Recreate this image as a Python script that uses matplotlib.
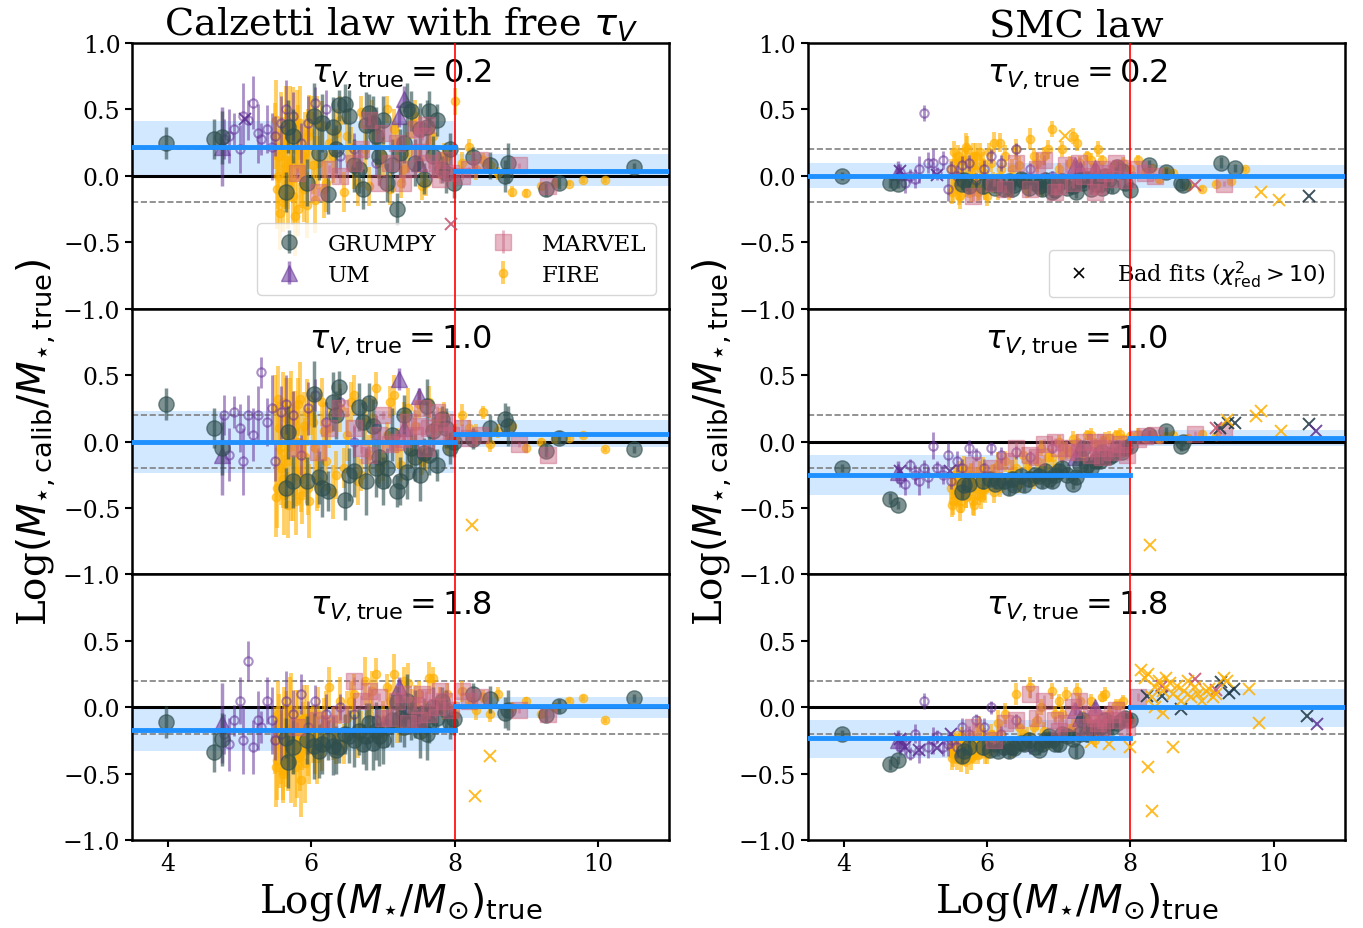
import matplotlib.pyplot as plt
import numpy as np

nan = np.nan

plt.rcParams['font.family'] = 'DejaVu Serif'
plt.rcParams['mathtext.fontset'] = 'dejavusans'

# panels: columns = attenuation law used in the fit, rows = true tau_V
col_titles = [r'Calzetti law with free $\tau_V$', 'SMC law']
tau_labels = ['0.2', '1.0', '1.8']

# ---------------- GRUMPY ----------------
grumpy_x = [3.97, 4.64, 4.76, 5.65, 5.68, 5.94, 6.04, 6.11, 6.23, 6.30,
            6.38, 6.47, 6.59, 6.67, 6.76, 6.81, 6.86, 6.95, 7.05, 7.20,
            7.24, 7.34, 7.39, 7.58, 7.61, 7.64, 7.82, 7.99, 8.26, 8.50,
            8.71, 8.74, 9.27, 9.46, 10.50,
            5.75, 6.15, 6.35, 6.52, 6.72, 6.90, 7.00, 7.12, 7.30, 7.45,
            7.52, 7.70, 7.75, 7.88, 7.93]
grumpy_calz_02 = [0.25, 0.28, 0.29, -0.12, 0.37, -0.05, 0.45, 0.17, -0.14, 0.37,
                  0.53, 0.54, 0.08, 0.05, 0.38, 0.47, 0.40, 0.15, -0.05, -0.25,
                  0.17, 0.50, 0.49, -0.02, 0.37, 0.49, 0.05, -0.05, 0.14, 0.08,
                  0.00, 0.10, -0.10, -0.05, 0.07,
                  0.30, 0.40, 0.20, 0.45, -0.10, 0.30, 0.42, 0.08, 0.25, 0.10,
                  0.35, 0.15, 0.42, 0.02, 0.20]
grumpy_calz_10 = [0.28, 0.10, -0.05, -0.35, 0.07, -0.30, 0.36, -0.27, -0.37, 0.30,
                  0.41, -0.44, -0.22, 0.26, -0.30, 0.29, 0.12, -0.12, -0.20, -0.37,
                  -0.30, -0.23, -0.05, -0.09, 0.27, -0.10, 0.17, 0.00, 0.02, 0.10,
                  0.17, 0.12, -0.07, 0.03, -0.06,
                  -0.30, -0.35, 0.20, -0.25, 0.15, -0.20, -0.30, 0.05, 0.20, -0.12,
                  -0.25, 0.08, -0.18, 0.10, -0.05]
grumpy_calz_18 = [-0.11, -0.34, -0.24, -0.23, -0.41, -0.25, -0.29, -0.33, -0.25, -0.29,
                  -0.30, -0.20, -0.25, -0.18, -0.22, -0.12, -0.27, -0.22, -0.15, 0.04,
                  -0.08, 0.05, -0.10, -0.05, -0.20, -0.12, 0.05, -0.09, 0.10, 0.06,
                  -0.04, -0.02, -0.06, 0.01, 0.07,
                  -0.30, -0.28, -0.32, -0.22, -0.28, -0.18, -0.25, -0.10, -0.15, -0.05,
                  -0.18, 0.00, -0.08, -0.02, -0.12]
grumpy_smc_02 = [0.00, -0.05, -0.06, -0.06, -0.03, -0.08, -0.05, -0.09, -0.10, -0.04,
                 -0.07, -0.02, -0.09, -0.05, -0.10, -0.03, -0.07, -0.11, -0.04, -0.08,
                 -0.12, -0.05, -0.02, -0.06, -0.09, 0.00, 0.07, -0.11, 0.08, 0.03,
                 -0.05, -0.07, 0.10, 0.06, nan,
                 -0.08, -0.06, -0.10, -0.04, -0.08, -0.12, -0.05, -0.09, -0.03, -0.10,
                 -0.06, -0.02, -0.08, 0.04, -0.05]
grumpy_smc_10 = [-0.20, -0.43, -0.48, -0.38, -0.33, -0.30, -0.28, -0.32, -0.30, -0.35,
                 -0.33, -0.26, -0.28, -0.25, -0.30, -0.22, -0.28, -0.25, -0.20, -0.32,
                 -0.27, -0.05, -0.18, -0.15, -0.08, -0.12, -0.05, -0.03, 0.05, 0.08,
                 -0.03, 0.00, nan, nan, nan,
                 -0.32, -0.30, -0.28, -0.33, -0.26, -0.30, -0.22, -0.25, -0.18, -0.20,
                 -0.15, -0.12, -0.10, -0.08, -0.05]
grumpy_smc_18 = [-0.20, -0.43, -0.40, -0.37, -0.33, -0.30, -0.32, -0.28, -0.30, -0.33,
                 -0.31, -0.27, -0.25, -0.30, -0.28, -0.25, -0.22, -0.28, -0.20, -0.24,
                 -0.33, -0.10, -0.20, -0.15, -0.18, -0.10, -0.12, -0.10, nan, nan,
                 nan, nan, nan, nan, nan,
                 -0.30, -0.33, -0.30, -0.28, -0.32, -0.25, -0.28, -0.22, -0.20, -0.18,
                 -0.15, -0.12, -0.15, -0.10, -0.08]
grumpy_err_calz = [0.12, 0.15, 0.20, 0.15, 0.20, 0.18, 0.25, 0.20, 0.15, 0.22,
                   0.12, 0.15, 0.20, 0.18, 0.25, 0.15, 0.20, 0.22, 0.15, 0.12,
                   0.18, 0.20, 0.15, 0.12, 0.20, 0.15, 0.10, 0.12, 0.08, 0.10,
                   0.12, 0.15, 0.05, 0.05, 0.03,
                   0.20, 0.22, 0.18, 0.20, 0.15, 0.22, 0.18, 0.20, 0.15, 0.18,
                   0.20, 0.15, 0.12, 0.15, 0.12]
grumpy_err_smc = [0.03, 0.04, 0.03, 0.05, 0.04, 0.06, 0.05, 0.04, 0.06, 0.05,
                  0.04, 0.05, 0.06, 0.04, 0.05, 0.06, 0.04, 0.05, 0.06, 0.04,
                  0.05, 0.04, 0.06, 0.05, 0.04, 0.05, 0.04, 0.05, 0.04, 0.03,
                  0.04, 0.03, 0.04, 0.03, 0.03,
                  0.05, 0.04, 0.06, 0.05, 0.04, 0.05, 0.06, 0.04, 0.05, 0.04,
                  0.05, 0.04, 0.05, 0.04, 0.05]

# ---------------- UM ----------------
um_x = [4.78, 4.85, 4.92, 5.00, 5.05, 5.12, 5.18, 5.25, 5.30, 5.38,
        5.45, 5.50, 5.58, 5.65, 5.75, 5.85, 5.95, 6.05, 6.20, 6.40,
        6.60, 6.90]
um_calz_02 = [0.28, 0.30, 0.35, 0.20, 0.45, 0.42, 0.55, 0.32, 0.28, 0.35,
              0.22, 0.30, 0.40, 0.50, 0.45, 0.25, 0.40, 0.55, 0.50, 0.15,
              0.20, 0.10]
um_calz_10 = [0.20, -0.10, 0.22, 0.10, -0.15, 0.20, 0.05, 0.20, 0.52, 0.15,
              0.25, -0.15, 0.22, 0.28, 0.20, -0.10, 0.25, 0.35, 0.15, 0.30,
              0.00, 0.10]
um_calz_18 = [-0.20, -0.28, -0.10, 0.05, -0.25, 0.35, -0.30, -0.10, -0.15, 0.05,
              -0.10, -0.25, -0.20, 0.05, -0.05, 0.10, -0.15, 0.05, -0.05, 0.00,
              -0.05, -0.10]
um_smc_02 = [0.03, -0.05, 0.00, -0.02, 0.05, 0.47, 0.10, 0.10, 0.02, 0.12,
             -0.10, 0.05, 0.00, 0.08, 0.10, -0.03, 0.05, 0.15, 0.10, 0.20,
             0.05, 0.00]
um_smc_10 = [-0.28, -0.32, -0.18, -0.25, -0.30, -0.20, -0.27, -0.03, -0.20, -0.25,
             -0.10, -0.30, -0.15, -0.20, -0.05, -0.10, -0.20, -0.05, -0.10, -0.08,
             -0.12, -0.05]
um_smc_18 = [-0.30, -0.28, -0.35, -0.20, -0.32, 0.05, -0.30, -0.25, -0.22, -0.30,
             -0.28, -0.25, -0.30, -0.15, -0.20, -0.10, -0.15, 0.00, -0.20, -0.10,
             -0.30, -0.25]
um_err_calz = [0.15, 0.20, 0.12, 0.18, 0.25, 0.15, 0.20, 0.22, 0.12, 0.18,
               0.25, 0.15, 0.20, 0.22, 0.18, 0.15, 0.20, 0.12, 0.15, 0.10,
               0.12, 0.10]
um_err_smc = [0.06, 0.08, 0.05, 0.07, 0.10, 0.06, 0.08, 0.10, 0.05, 0.07,
              0.09, 0.06, 0.08, 0.07, 0.06, 0.05, 0.07, 0.05, 0.06, 0.05,
              0.05, 0.04]
# UM galaxies drawn as triangles
umtri_x = [4.76, 7.22, 7.30, 7.50]
umtri_calz_02 = [0.22, 0.45, 0.58, 0.10]
umtri_calz_10 = [-0.10, 0.47, 0.10, 0.34]
umtri_calz_18 = [-0.12, 0.15, -0.05, -0.10]
umtri_smc_02 = [0.03, 0.08, 0.05, 0.06]
umtri_smc_10 = [-0.23, -0.12, -0.05, -0.10]
umtri_smc_18 = [-0.25, -0.02, -0.08, 0.00]
umtri_err_calz = [0.30, 0.08, 0.10, 0.06]
umtri_err_smc = [0.08, 0.04, 0.05, 0.04]

# ---------------- MARVEL ----------------
marvel_x = [5.80, 6.10, 6.40, 6.60, 6.80, 6.95, 7.10, 7.20, 7.35, 7.45,
            7.55, 7.65, 7.75, 7.85, 7.95, 8.10, 8.35, 8.90, 9.30,
            6.25, 6.70, 7.00, 7.28, 7.50, 7.60, 7.80, 8.20]
marvel_calz_02 = [0.02, -0.12, 0.00, 0.10, 0.42, -0.05, 0.10, 0.25, 0.05, 0.35,
                  0.30, 0.10, 0.05, 0.12, 0.02, 0.00, 0.12, 0.08, -0.08,
                  0.05, 0.20, 0.32, -0.05, 0.18, 0.38, -0.02, 0.05]
marvel_calz_10 = [-0.05, -0.08, 0.25, 0.10, -0.10, 0.05, -0.02, 0.00, 0.15, 0.05,
                  0.25, 0.10, 0.22, 0.15, 0.05, 0.10, 0.05, -0.02, -0.10,
                  0.10, -0.05, 0.20, 0.02, 0.12, -0.05, 0.08, 0.03]
marvel_calz_18 = [-0.15, -0.10, -0.05, 0.20, 0.12, 0.08, -0.08, 0.05, -0.12, 0.02,
                  0.10, -0.05, 0.00, 0.05, -0.02, 0.12, 0.08, -0.02, -0.05,
                  -0.12, 0.05, -0.08, 0.10, -0.10, 0.08, 0.12, 0.05]
marvel_smc_02 = [-0.15, -0.05, 0.10, -0.10, 0.12, -0.12, 0.08, -0.05, 0.00, 0.05,
                 -0.08, 0.02, -0.02, 0.06, -0.03, 0.05, 0.00, nan, -0.06,
                 -0.10, 0.05, -0.08, 0.10, -0.12, 0.05, 0.10, 0.02]
marvel_smc_10 = [-0.18, -0.20, -0.05, -0.10, -0.02, 0.00, -0.08, -0.05, 0.00, -0.10,
                 -0.05, 0.00, -0.08, -0.02, -0.10, 0.02, 0.05, 0.06, 0.07,
                 -0.15, -0.12, -0.05, -0.08, 0.00, -0.12, -0.05, 0.04]
marvel_smc_18 = [-0.15, -0.25, -0.10, 0.10, 0.05, -0.10, -0.12, 0.00, -0.15, -0.05,
                 -0.12, -0.10, -0.05, -0.10, -0.15, 0.08, nan, nan, nan,
                 -0.12, -0.08, -0.18, 0.05, -0.08, -0.15, -0.02, nan]
marvel_err = [0.04, 0.03, 0.05, 0.03, 0.04, 0.03, 0.05, 0.04, 0.03, 0.04,
              0.03, 0.04, 0.05, 0.03, 0.04, 0.03, 0.02, 0.02, 0.02,
              0.03, 0.04, 0.03, 0.04, 0.03, 0.04, 0.03, 0.02]

# ---------------- FIRE ----------------
fire_x = [5.50, 5.52, 5.55, 5.58, 5.60, 5.62, 5.65, 5.68, 5.70, 5.72,
          5.75, 5.78, 5.80, 5.82, 5.85, 5.88, 5.90, 5.95, 6.00, 6.05,
          6.10, 6.15, 6.20, 6.25, 6.30, 6.40, 6.45, 6.50, 6.60, 6.70,
          6.75, 6.80, 6.90, 7.00, 7.05, 7.10, 7.20, 7.30, 7.40, 7.50,
          7.60, 7.70, 7.80, 7.90, 8.00, 8.10, 8.20, 8.30, 8.40, 8.50,
          8.60, 8.80, 9.00, 9.20, 9.40, 9.60, 9.80, 10.10,
          5.51, 5.54, 5.57, 5.61, 5.64, 5.67, 5.71, 5.74, 5.77, 5.81,
          5.84, 5.87, 5.91, 5.94, 5.97, 6.02, 6.08, 6.18, 6.35, 6.55,
          6.65, 6.85, 6.95, 7.15, 7.25, 7.35, 7.45, 7.55, 7.65, 7.85]
fire_calz_02 = [0.30, -0.10, 0.15, 0.35, -0.20, 0.05, 0.25, -0.05, 0.40, 0.10,
                -0.15, 0.20, 0.35, -0.25, 0.05, 0.15, -0.10, 0.30, 0.45, -0.18,
                0.10, 0.38, -0.05, 0.25, 0.15, 0.42, -0.12, 0.30, 0.05, 0.48,
                0.20, -0.08, 0.35, 0.15, 0.50, -0.10, 0.25, 0.05, 0.40, 0.12,
                -0.05, 0.30, 0.08, 0.15, 0.56, 0.10, 0.22, 0.05, 0.12, 0.08,
                0.02, -0.12, -0.13, -0.08, -0.05, -0.06, -0.03, -0.03,
                0.42, 0.00, -0.28, 0.22, 0.38, -0.15, 0.12, 0.45, -0.30, 0.28,
                0.40, -0.02, 0.18, -0.22, 0.33, 0.08, 0.40, -0.10, 0.32, 0.22,
                -0.05, 0.42, 0.10, 0.35, -0.05, 0.18, 0.45, -0.08, 0.25, 0.15]
fire_calz_10 = [0.25, -0.35, 0.10, -0.20, 0.30, -0.40, 0.05, -0.15, 0.20, -0.30,
                0.15, -0.45, 0.00, 0.28, -0.25, -0.10, 0.12, -0.35, 0.20, -0.05,
                -0.30, 0.30, -0.15, 0.10, -0.38, 0.25, -0.20, 0.05, 0.35, -0.25,
                0.15, -0.10, 0.40, -0.15, 0.05, 0.30, -0.05, 0.20, -0.08, 0.28,
                -0.12, 0.10, 0.15, -0.02, 0.03, 0.20, 0.10, 0.05, 0.22, -0.02,
                0.08, 0.12, -0.05, 0.00, 0.02, 0.03, 0.05, -0.06,
                -0.42, 0.32, -0.05, -0.28, 0.18, -0.48, 0.25, -0.38, 0.08, -0.22,
                0.32, -0.40, -0.12, 0.22, -0.45, 0.15, -0.32, 0.08, -0.25, 0.30,
                -0.30, 0.18, -0.20, 0.35, -0.18, 0.25, 0.12, -0.15, 0.30, 0.20]
fire_calz_18 = [-0.25, -0.40, -0.10, -0.30, -0.50, -0.15, -0.35, -0.20, -0.05, -0.42,
                -0.28, -0.12, -0.38, -0.22, -0.55, -0.18, -0.08, -0.32, -0.15, -0.25,
                -0.05, -0.30, -0.10, 0.15, -0.20, 0.05, -0.28, -0.08, 0.10, -0.15,
                0.20, -0.05, 0.25, -0.10, 0.15, 0.05, -0.12, 0.20, 0.02, 0.10,
                -0.05, 0.22, 0.05, 0.10, -0.05, 0.12, 0.05, -0.02, 0.08, -0.05,
                0.10, 0.00, 0.05, -0.05, 0.00, 0.05, 0.07, -0.10,
                -0.45, -0.05, -0.33, -0.48, -0.18, -0.38, -0.02, -0.28, -0.45, -0.12,
                -0.35, -0.25, -0.42, -0.08, -0.30, -0.20, -0.38, -0.15, -0.25, 0.05,
                -0.20, 0.12, -0.18, 0.25, -0.10, 0.18, 0.05, -0.15, 0.22, 0.00]
fire_smc_02 = [0.05, -0.10, 0.10, -0.05, 0.15, -0.15, 0.00, 0.12, -0.08, 0.20,
               0.05, -0.12, 0.15, -0.05, 0.08, -0.10, 0.18, 0.02, -0.15, 0.10,
               0.25, -0.08, 0.05, 0.15, -0.12, 0.20, 0.08, -0.05, 0.28, 0.10,
               -0.10, 0.15, 0.35, 0.05, 0.20, -0.05, 0.30, 0.10, 0.15, 0.05,
               0.12, -0.02, 0.08, 0.10, 0.05, 0.12, 0.03, 0.06, -0.02, 0.04,
               0.02, -0.08, -0.10, -0.06, -0.04, 0.05, nan, nan,
               -0.12, 0.18, 0.02, -0.15, 0.12, -0.05, 0.22, -0.10, 0.08, -0.02,
               0.15, -0.12, 0.05, 0.10, -0.08, 0.18, -0.05, 0.25, 0.05, -0.10,
               0.15, 0.20, -0.08, 0.10, 0.25, -0.02, 0.12, 0.20, 0.00, 0.08]
fire_smc_10 = [-0.35, -0.45, -0.25, -0.40, -0.30, -0.50, -0.35, -0.20, -0.42, -0.30,
               -0.38, -0.25, -0.45, -0.32, -0.28, -0.40, -0.22, -0.35, -0.30, -0.25,
               -0.38, -0.18, -0.30, -0.15, -0.28, -0.20, -0.32, -0.10, -0.25, -0.15,
               -0.05, -0.20, -0.12, 0.00, -0.10, -0.05, 0.02, -0.08, 0.05, -0.02,
               0.00, 0.03, 0.05, 0.02, 0.04, 0.06, 0.03, 0.05, 0.02, 0.04,
               0.05, 0.03, 0.06, 0.04, nan, nan, nan, nan,
               -0.48, -0.30, -0.38, -0.22, -0.45, -0.28, -0.40, -0.33, -0.25, -0.48,
               -0.35, -0.30, -0.42, -0.20, -0.36, -0.30, -0.25, -0.35, -0.22, -0.18,
               -0.30, -0.12, -0.20, -0.08, 0.00, -0.12, 0.05, -0.05, 0.02, 0.06]
fire_smc_18 = [-0.30, -0.35, -0.25, -0.38, -0.28, -0.32, -0.22, -0.35, -0.30, -0.40,
               -0.25, -0.33, -0.28, -0.36, -0.30, -0.15, -0.30, -0.25, -0.35, -0.20,
               -0.28, -0.12, -0.25, -0.05, -0.30, 0.10, -0.15, -0.20, 0.15, -0.10,
               0.00, -0.18, 0.12, 0.05, -0.05, 0.10, -0.15, 0.05, -0.10, -0.25,
               0.08, -0.05, 0.02, 0.05, -0.10, nan, nan, nan, nan, nan,
               nan, nan, nan, nan, nan, nan, nan, nan,
               -0.38, -0.28, -0.33, -0.25, -0.40, -0.30, -0.35, -0.27, -0.38, -0.32,
               -0.28, -0.36, -0.30, -0.25, -0.33, -0.30, -0.25, -0.20, -0.30, -0.22,
               -0.15, -0.25, -0.05, -0.18, 0.12, -0.08, 0.05, -0.12, 0.10, 0.02]
fire_err_calz = [0.25, 0.30, 0.20, 0.28, 0.22, 0.30, 0.25, 0.20, 0.28, 0.30,
                 0.22, 0.25, 0.30, 0.20, 0.28, 0.22, 0.25, 0.20, 0.15, 0.25,
                 0.20, 0.18, 0.22, 0.15, 0.20, 0.18, 0.15, 0.20, 0.15, 0.12,
                 0.18, 0.15, 0.12, 0.15, 0.10, 0.12, 0.15, 0.10, 0.12, 0.10,
                 0.10, 0.08, 0.10, 0.08, 0.10, 0.08, 0.06, 0.08, 0.05, 0.06,
                 0.05, 0.04, 0.03, 0.03, 0.03, 0.02, 0.02, 0.02,
                 0.30, 0.25, 0.28, 0.22, 0.30, 0.25, 0.28, 0.22, 0.30, 0.25,
                 0.28, 0.22, 0.30, 0.25, 0.28, 0.22, 0.20, 0.22, 0.18, 0.15,
                 0.18, 0.15, 0.12, 0.15, 0.12, 0.15, 0.12, 0.10, 0.12, 0.10]
fire_err_smc = [0.08, 0.10, 0.07, 0.09, 0.08, 0.10, 0.07, 0.09, 0.08, 0.10,
                0.07, 0.08, 0.10, 0.07, 0.09, 0.08, 0.07, 0.09, 0.08, 0.07,
                0.08, 0.10, 0.07, 0.08, 0.06, 0.08, 0.07, 0.06, 0.08, 0.07,
                0.06, 0.07, 0.06, 0.05, 0.06, 0.05, 0.06, 0.05, 0.04, 0.05,
                0.04, 0.05, 0.04, 0.04, 0.03, 0.04, 0.03, 0.03, 0.03, 0.03,
                0.02, 0.02, 0.02, 0.02, 0.02, 0.02, 0.02, 0.02,
                0.09, 0.08, 0.10, 0.07, 0.09, 0.08, 0.10, 0.07, 0.09, 0.08,
                0.10, 0.07, 0.09, 0.08, 0.10, 0.07, 0.08, 0.07, 0.08, 0.07,
                0.06, 0.07, 0.06, 0.05, 0.06, 0.05, 0.05, 0.06, 0.05, 0.04]

# ---------------- bad fits (chi2_red > 10) ----------------
bad_calz_02_um_x, bad_calz_02_um_y = [5.07], [0.43]
bad_calz_02_marvel_x, bad_calz_02_marvel_y = [7.95], [-0.36]
bad_calz_10_fire_x, bad_calz_10_fire_y = [8.25], [-0.63]
bad_calz_18_fire_x, bad_calz_18_fire_y = [8.50, 8.28], [-0.37, -0.67]
bad_smc_02_grumpy_x, bad_smc_02_grumpy_y = [10.50], [-0.15]
bad_smc_02_um_x, bad_smc_02_um_y = [4.78, 5.30], [0.04, 0.01]
bad_smc_02_marvel_x, bad_smc_02_marvel_y = [8.90], [-0.07]
bad_smc_02_fire_x, bad_smc_02_fire_y = [7.09, 9.82, 10.08], [0.30, -0.12, -0.18]
bad_smc_10_grumpy_x, bad_smc_10_grumpy_y = [9.25, 9.36, 9.46, 10.50], [0.10, 0.14, 0.14, 0.13]
bad_smc_10_um_x, bad_smc_10_um_y = [4.78, 5.48, 10.59], [-0.22, -0.22, 0.08]
bad_smc_10_marvel_x, bad_smc_10_marvel_y = [9.20], [0.10]
bad_smc_10_fire_x = [8.27, 9.35, 9.75, 9.82, 10.10]
bad_smc_10_fire_y = [-0.78, 0.16, 0.19, 0.23, 0.08]
bad_smc_18_grumpy_x = [8.23, 8.44, 8.71, 9.26, 9.38, 9.45, 10.47]
bad_smc_18_grumpy_y = [0.085, 0.085, -0.015, 0.19, 0.11, 0.135, -0.065]
bad_smc_18_um_x = [4.78, 4.85, 5.05, 5.30, 5.50, 10.60]
bad_smc_18_um_y = [-0.24, -0.30, -0.32, -0.31, -0.20, -0.13]
bad_smc_18_marvel_x, bad_smc_18_marvel_y = [8.44, 8.90, 9.20], [0.16, 0.21, 0.13]
bad_smc_18_fire_x = [8.15, 8.20, 8.25, 8.30, 8.35, 8.40, 8.45, 8.50, 8.55, 8.60,
                     8.65, 8.70, 8.75, 8.80, 8.85, 8.90, 8.95, 9.00, 9.05, 9.10,
                     9.15, 9.20, 9.30, 9.35, 9.65, 9.80, 8.25, 8.30, 8.60, 8.00,
                     7.70, 7.45, 8.35, 8.45]
bad_smc_18_fire_y = [0.28, 0.22, 0.25, 0.08, 0.15, 0.20, 0.12, 0.22, 0.18, 0.10,
                     0.16, 0.05, 0.12, 0.20, 0.08, 0.15, 0.10, 0.05, 0.12, 0.14,
                     0.08, 0.10, 0.22, 0.20, 0.14, -0.12, -0.45, -0.78, -0.30, -0.30,
                     -0.28, -0.26, 0.00, -0.04]

# ---------------- running medians and 16-84 bands (below / above 10^8) ----------------
med_lo = [[0.22, 0.00, -0.17], [0.00, -0.25, -0.235]]
band_lo = [[(0.01, 0.41), (-0.24, 0.23), (-0.33, -0.01)],
           [(-0.09, 0.10), (-0.40, -0.10), (-0.38, -0.10)]]
med_hi = [[0.04, 0.06, 0.01], [0.00, 0.03, 0.00]]
band_hi = [[(-0.075, 0.165), (-0.04, 0.16), (-0.08, 0.08)],
           [(-0.09, 0.08), (-0.03, 0.09), (-0.15, 0.135)]]

m_split = 8.0
xmin, xmax = 3.5, 11.0

colors = {'GRUMPY': '#2f4f4f', 'UM': '#663399', 'MARVEL': '#c8607c', 'FIRE': '#ffb000'}
bad_colors = {'GRUMPY': '#1c3440', 'UM': '#5b2e91', 'MARVEL': '#c44e6a', 'FIRE': '#ffb000'}

grumpy_y = [[grumpy_calz_02, grumpy_calz_10, grumpy_calz_18],
            [grumpy_smc_02, grumpy_smc_10, grumpy_smc_18]]
um_y = [[um_calz_02, um_calz_10, um_calz_18], [um_smc_02, um_smc_10, um_smc_18]]
umtri_y = [[umtri_calz_02, umtri_calz_10, umtri_calz_18],
           [umtri_smc_02, umtri_smc_10, umtri_smc_18]]
marvel_y = [[marvel_calz_02, marvel_calz_10, marvel_calz_18],
            [marvel_smc_02, marvel_smc_10, marvel_smc_18]]
fire_y = [[fire_calz_02, fire_calz_10, fire_calz_18],
          [fire_smc_02, fire_smc_10, fire_smc_18]]
grumpy_err = [grumpy_err_calz, grumpy_err_smc]
um_err = [um_err_calz, um_err_smc]
umtri_err = [umtri_err_calz, umtri_err_smc]
fire_err = [fire_err_calz, fire_err_smc]

bad = {
    (0, 0): [('UM', bad_calz_02_um_x, bad_calz_02_um_y),
             ('MARVEL', bad_calz_02_marvel_x, bad_calz_02_marvel_y)],
    (0, 1): [('FIRE', bad_calz_10_fire_x, bad_calz_10_fire_y)],
    (0, 2): [('FIRE', bad_calz_18_fire_x, bad_calz_18_fire_y)],
    (1, 0): [('GRUMPY', bad_smc_02_grumpy_x, bad_smc_02_grumpy_y),
             ('UM', bad_smc_02_um_x, bad_smc_02_um_y),
             ('MARVEL', bad_smc_02_marvel_x, bad_smc_02_marvel_y),
             ('FIRE', bad_smc_02_fire_x, bad_smc_02_fire_y)],
    (1, 1): [('GRUMPY', bad_smc_10_grumpy_x, bad_smc_10_grumpy_y),
             ('UM', bad_smc_10_um_x, bad_smc_10_um_y),
             ('MARVEL', bad_smc_10_marvel_x, bad_smc_10_marvel_y),
             ('FIRE', bad_smc_10_fire_x, bad_smc_10_fire_y)],
    (1, 2): [('GRUMPY', bad_smc_18_grumpy_x, bad_smc_18_grumpy_y),
             ('UM', bad_smc_18_um_x, bad_smc_18_um_y),
             ('MARVEL', bad_smc_18_marvel_x, bad_smc_18_marvel_y),
             ('FIRE', bad_smc_18_fire_x, bad_smc_18_fire_y)],
}

fig, axes = plt.subplots(3, 2, figsize=(13.63, 9.29), dpi=100, sharex=True)
fig.subplots_adjust(left=0.097, right=0.987, top=0.9526, bottom=0.0947,
                    hspace=0.0, wspace=0.258)

for c in range(2):
    for r in range(3):
        ax = axes[r, c]
        # reference lines
        ax.axhline(0, color='k', lw=2.2, zorder=1)
        ax.axhline(0.2, color='grey', lw=1.2, ls='--', zorder=1)
        ax.axhline(-0.2, color='grey', lw=1.2, ls='--', zorder=1)
        ax.axvline(m_split, color='red', lw=1.2, zorder=6)

        # medians and bands
        lo, hi = band_lo[c][r]
        ax.fill_between([xmin, m_split], lo, hi, color='dodgerblue', alpha=0.2,
                        lw=0, zorder=0)
        ax.plot([xmin, m_split], [med_lo[c][r]] * 2, color='dodgerblue', lw=3.5, zorder=7)
        lo, hi = band_hi[c][r]
        ax.fill_between([m_split, xmax], lo, hi, color='dodgerblue', alpha=0.2,
                        lw=0, zorder=0)
        ax.plot([m_split, xmax], [med_hi[c][r]] * 2, color='dodgerblue', lw=3.5, zorder=7)

        # simulations
        h_fire = ax.errorbar(fire_x, fire_y[c][r], yerr=fire_err[c], fmt='o',
                             color=colors['FIRE'], ms=6, elinewidth=2.8, alpha=0.6,
                             zorder=2, label='FIRE')
        ax.errorbar(um_x, um_y[c][r], yerr=um_err[c], fmt='o', color=colors['UM'],
                    mfc='none', mew=1.5, ms=6, elinewidth=2, alpha=0.55, zorder=3)
        h_um = ax.errorbar(umtri_x, umtri_y[c][r], yerr=umtri_err[c], fmt='^',
                           color=colors['UM'], ms=11, elinewidth=2.5, alpha=0.55,
                           zorder=3, label='UM')
        h_grumpy = ax.errorbar(grumpy_x, grumpy_y[c][r], yerr=grumpy_err[c], fmt='o',
                               color=colors['GRUMPY'], ms=11, elinewidth=2.5,
                               alpha=0.62, zorder=4, label='GRUMPY')
        h_marvel = ax.errorbar(marvel_x, marvel_y[c][r], yerr=marvel_err, fmt='s',
                               color=colors['MARVEL'], ms=12, elinewidth=2,
                               alpha=0.45, zorder=5, label='MARVEL')

        for sim, bx, by in bad[(c, r)]:
            ax.plot(bx, by, 'x', color=bad_colors[sim], ms=9, mew=1.4,
                    alpha=0.85, zorder=6)

        ax.text(0.5, 0.885, r'$\tau_{V,\rm true} = %s$' % tau_labels[r],
                transform=ax.transAxes, ha='center', va='center', fontsize=23)

        ax.set_xlim(xmin, xmax)
        ax.set_ylim(-1, 1)
        if r == 0:
            ax.set_yticks([-1.0, -0.5, 0.0, 0.5, 1.0])
        else:
            ax.set_yticks([-1.0, -0.5, 0.0, 0.5])
        ax.set_xticks([4, 6, 8, 10])
        ax.tick_params(labelsize=17, width=1.5, length=5)
        for sp in ax.spines.values():
            sp.set_linewidth(1.8)

        if r == 0 and c == 0:
            ax.legend([h_grumpy, h_um, h_marvel, h_fire],
                      ['GRUMPY', 'UM', 'MARVEL', 'FIRE'], ncol=2, loc='lower right',
                      fontsize=16.5, borderaxespad=0.6, handletextpad=0.7,
                      columnspacing=1.9, labelspacing=0.4)
        if r == 0 and c == 1:
            hb, = ax.plot([], [], 'x', color='k', ms=7, mew=1.2)
            ax.legend([hb], [r'Bad fits ($\chi^2_{\rm red} > 10$)'], loc='lower right',
                      fontsize=16.2, borderaxespad=0.5, handletextpad=0.7,
                      borderpad=0.35)

    axes[0, c].set_title(col_titles[c], fontsize=27.5, pad=4)
    axes[1, c].set_ylabel('Log$(M_{\\star,\\rm calib}/M_{\\star,\\rm true})$', fontsize=28)
    axes[2, c].set_xlabel('Log$(M_\u22c6/M_\u2299)_{\\rm true}$', fontsize=28)

fig.savefig('out.png', dpi=100)
